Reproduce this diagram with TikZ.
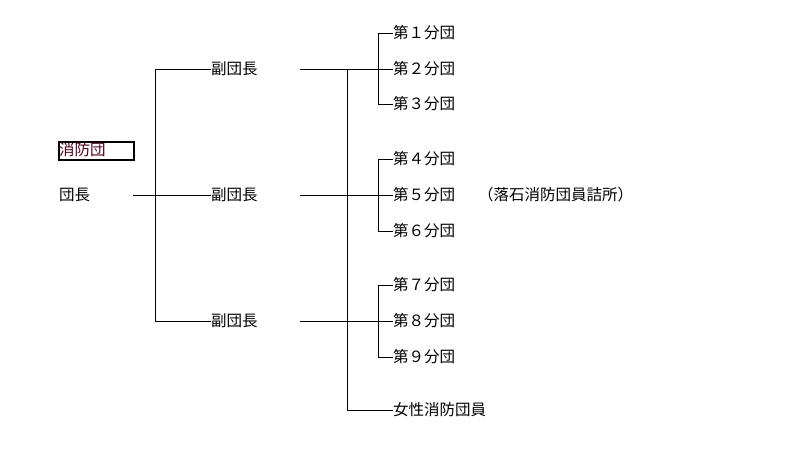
\documentclass[tikz,border=0pt]{standalone}
\usepackage{fontspec}
\setmainfont{Noto Sans CJK JP}
\definecolor{boxtext}{RGB}{80,0,25}
\begin{document}
\begin{tikzpicture}[x=1pt,y=-1pt,
  lbl/.style={anchor=west,inner sep=0pt,font=\fontsize{15.5}{16}\selectfont},
  conn/.style={line width=1pt,draw=black}]
\useasboundingbox (0,0) rectangle (800,455);
% title box
\node[draw=black,line width=2pt,minimum width=75pt,minimum height=18pt,inner sep=0pt,anchor=north west] (titlebox) at (58,141) {};
\node[lbl,text=boxtext] (title) at (59,150) {消防団};
% chief
\node[lbl] (dan) at (59,195) {団長};
\node[lbl] (f1) at (211,69) {副団長};
\node[lbl] (f2) at (211,195) {副団長};
\node[lbl] (f3) at (211,321) {副団長};
% branches
\node[lbl] (b1) at (393,33) {第１分団};
\node[lbl] (b2) at (393,69) {第２分団};
\node[lbl] (b3) at (393,104) {第３分団};
\node[lbl] (b4) at (393,159) {第４分団};
\node[lbl] (b5) at (393,195) {第５分団};
\node[lbl] (b6) at (393,231) {第６分団};
\node[lbl] (b7) at (393,285) {第７分団};
\node[lbl] (b8) at (393,321) {第８分団};
\node[lbl] (b9) at (393,357) {第９分団};
\node[lbl] (note) at (478,195) {（落石消防団員詰所）};
\node[lbl] (jo) at (393,410) {女性消防団員};
% junction coordinates
\coordinate (d0) at (133,195);
\coordinate (v1t) at (155,69);
\coordinate (v1b) at (155,321);
\coordinate (r1) at (300,69);
\coordinate (r2) at (300,195);
\coordinate (r3) at (300,321);
\coordinate (v2b) at (347,410);
\coordinate (v2t) at (347,69);
% connectors left
\draw[conn] (d0) -- (f2.west);
\draw[conn] (f1.west) -- (v1t) -- (v1b) -- (f3.west);
% connectors right
\draw[conn] (r1) -- (b2.west);
\draw[conn] (r2) -- (b5.west);
\draw[conn] (r3) -- (b8.west);
\draw[conn] (v2t) -- (v2b) -- (jo.west);
\draw[conn] (b1.west) -- (378,33) -- (378,104) -- (b3.west);
\draw[conn] (b4.west) -- (378,159) -- (378,231) -- (b6.west);
\draw[conn] (b7.west) -- (378,285) -- (378,357) -- (b9.west);
\end{tikzpicture}
\end{document}
